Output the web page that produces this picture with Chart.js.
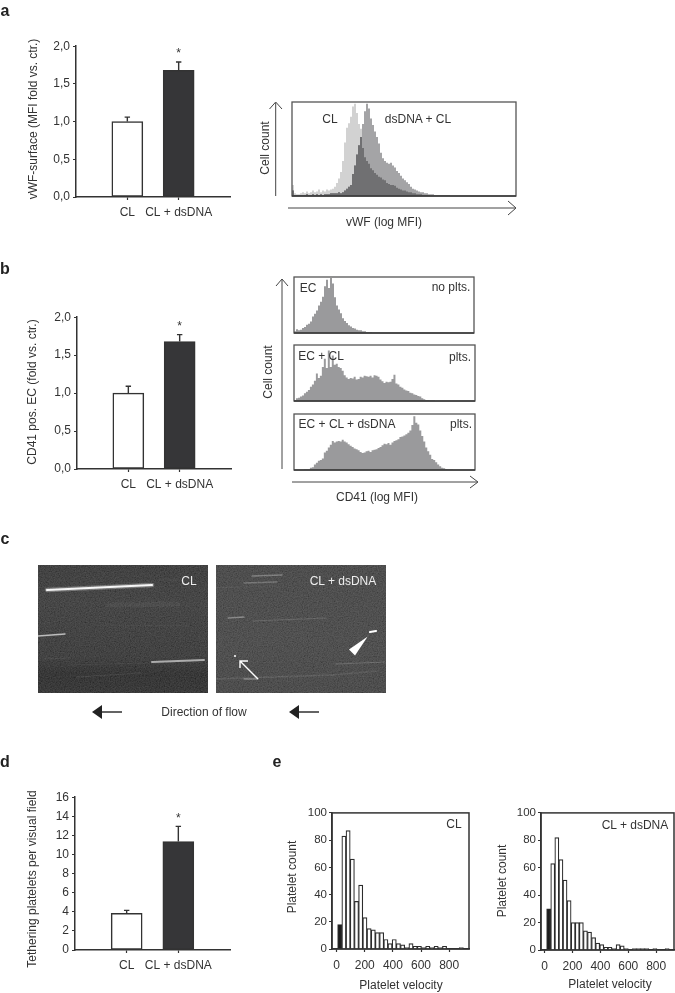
<!DOCTYPE html>
<html>
<head>
<meta charset="utf-8">
<title>Figure</title>
<script src="https://cdn.jsdelivr.net/npm/chart.js@4"></script>
<style>
  html, body { margin: 0; padding: 0; background: #fff; }
  #page { position: relative; width: 675px; height: 993px; overflow: hidden; font-family: "Liberation Sans", Arial, sans-serif; color: #333; }
  #page canvas { position: absolute; }
  .t { position: absolute; white-space: nowrap; font-size: 12px; line-height: 14px; transform: translate(-50%, -50%); }
  .t.v { transform: translate(-50%, -50%) rotate(-90deg); }
  .t.h { font-size: 16px; font-weight: bold; color: #222; }
  .t.w { color: #eee; }
  .photo { position: absolute; top: 565px; width: 170px; height: 128px; overflow: hidden; }
  .photo i { position: absolute; inset: 0; opacity: .25; background-image: url("data:image/svg+xml,%3Csvg xmlns='http://www.w3.org/2000/svg' width='170' height='128'%3E%3Cfilter id='n'%3E%3CfeTurbulence type='fractalNoise' baseFrequency='.8' numOctaves='2'/%3E%3CfeColorMatrix values='1 0 0 0 0 1 0 0 0 0 1 0 0 0 0 0 0 0 0 1'/%3E%3C/filter%3E%3Crect width='170' height='128' filter='url(%23n)'/%3E%3C/svg%3E"); }
  #page svg.marks { position: absolute; left: 0; top: 0; }
</style>
</head>
<body>
<div id="page">
  <div class="photo" style="left:38px;background:linear-gradient(180deg,#1a1a1a 0%,#202020 30%,#1a1a1a 72%,#0c0c0c 85%,#101010 100%)"><i></i></div>
  <div class="photo" style="left:216px;background:linear-gradient(180deg,#2a2a2a 0%,#2d2d2d 60%,#292929 100%)"><i></i></div>
</div>
<script>
const INK = "#333";
const FONT = "'Liberation Sans', Arial, sans-serif";

// --- bar panels a, b, d
const barCats = ["", "CL", "CL + dsDNA", ""];
const vwfMeans = [null, 1.0, 1.68, null];
const vwfTops = [null, 1.06, 1.79, null];
const cd41Means = [null, 1.0, 1.68, null];
const cd41Tops = [null, 1.09, 1.77, null];
const tetherMeans = [null, 3.85, 11.35, null];
const tetherTops = [null, 4.15, 12.95, null];
const foldTicks = [0, 0.5, 1, 1.5, 2];
const tetherTicks = [0, 2, 4, 6, 8, 10, 12, 14, 16];

// --- cytometry histograms (% of frame height, one value per bin)
const vwfCL = [12,3,2,2,3,4,3,5,3,4,6,4,5,7,4,6,5,7,6,7,8,10,14,19,26,38,58,74,79,86,97,100,90,78,73,52,42,38,35,30,28,25,23,21,20,18,17,14,13,12,12,11,9,8,7,6,6,5,4,4,3,3,2,2,2,1,1,1,1,0];
const vwfDs = [6,1,1,1,1,1,1,2,1,1,2,1,2,1,2,1,2,2,2,3,3,3,3,4,3,4,6,8,10,12,24,33,45,55,64,78,92,100,95,84,77,70,64,57,47,41,38,36,35,36,33,31,27,25,22,19,17,15,13,10,8,7,6,5,4,4,3,3,2,2,2,1,1,1,1,1,1,1,1,0];
const vwfBoth = [6,1,1,1,1,1,1,2,1,1,2,1,2,1,2,1,2,2,2,3,3,3,3,4,3,4,6,8,10,12,24,33,45,55,64,52,42,38,35,30,28,25,23,21,20,18,17,14,13,12,12,11,9,8,7,6,6,5,4,4,3,3,2,2,2,1,1,1,1,0];
const ecAlone = [3,7,5,6,9,11,15,17,21,30,35,41,50,57,66,85,97,82,100,90,65,50,43,36,27,22,18,14,12,9,8,6,5,5,3,3,2,2,2,1,1,1,1,0];
const ecCL = [2,5,6,8,10,14,17,20,26,30,37,50,42,46,62,77,60,92,62,83,66,68,62,60,55,47,43,40,42,41,44,39,40,44,43,46,45,44,46,43,47,46,44,39,36,33,35,34,35,40,48,32,30,26,24,21,19,18,15,14,12,11,9,8,5,3,2,2,1,1,1,0];
const ecCLds = [0,0,0,0,0,1,1,1,4,5,10,13,17,18,21,32,35,41,46,53,50,52,53,52,55,52,50,47,44,42,39,38,36,33,31,32,34,35,33,36,37,38,40,42,45,48,47,49,46,50,53,54,56,60,61,63,65,68,72,82,98,86,83,72,62,52,41,34,28,20,18,14,10,7,4,3,2,1,1,1,0];

// --- velocity histograms e
const velCL = [18,83,87,66,35,47,23,15,14,12,12,7,4,7,4,3,1,4,2,2,1,2,1,2,1,2,0,0,0,1];
const velDs = [30,63,82,66,51,36,20,20,20,14,13,9,5,4,2,2,1,4,3,1,0,1,1,1,1,0,1,0,0,1];
const velTicksX = [0, 200, 400, 600, 800];
const velTicksY = [0, 20, 40, 60, 80, 100];

// --- streaks in the two video frames: x0, y0, x1, y1 across the 170 x 128 frame
const streaksCL = [[9,25,114,20],[9,25,114,20],[0,71,27,69],[114,97,166,95],[5,94,32,93],[39,112,103,108],[70,40,140,39],[60,60,150,61],[30,100,110,98],[120,15,140,15]];
const streakGreyCL = ["#f6f6f6","rgba(255,255,255,.28)","#bcbcbc","#acacac","rgba(255,255,255,.07)","rgba(255,255,255,.08)","rgba(255,255,255,.04)","rgba(255,255,255,.04)","rgba(255,255,255,.05)","rgba(255,255,255,.05)"];
const streakWidthCL = [2.2,4.5,1.5,2,1.2,1.2,5,1.2,1.2,1];
const streaksDs = [[36,11,66,10],[28,18,61,17],[12,53,28,52],[37,56,110,53],[154,67,160,66],[120,99,169,97],[0,114,117,110],[28,114,42,114],[117,110,160,106],[0,23,60,21]];
const streakGreyDs = ["rgba(255,255,255,.28)","rgba(255,255,255,.22)","rgba(255,255,255,.32)","rgba(255,255,255,.14)","#fff","rgba(255,255,255,.17)","rgba(255,255,255,.1)","rgba(255,255,255,.3)","rgba(255,255,255,.08)","rgba(255,255,255,.05)"];
const streakWidthDs = [1.3,1.3,1.4,1.1,2.2,1.2,1.6,1.3,1.5,1];

const page = document.getElementById("page");

function text(str, x, y, cls) {
  const d = document.createElement("div");
  d.className = "t " + (cls || "");
  d.textContent = str;
  d.style.left = x + "px";
  d.style.top = y + "px";
  page.appendChild(d);
}

// canvas placed so that the plot area lands on box = [left, top, right, bottom]
function place(box, m, config) {
  const c = document.createElement("canvas");
  const w = Math.round(box[2] - box[0] + m.l + m.r), h = Math.round(box[3] - box[1] + m.t + m.b);
  c.width = w; c.height = h;
  c.style.left = (box[0] - m.l) + "px";
  c.style.top = (box[1] - m.t) + "px";
  c.style.width = w + "px"; c.style.height = h + "px";
  page.appendChild(c);
  config.options = Object.assign({
    responsive: false, animation: false,
    layout: { padding: { top: m.t, right: m.r, left: 0, bottom: 0 } },
    plugins: { legend: { display: false }, tooltip: { enabled: false } },
  }, config.options);
  return new Chart(c, config);
}

const tickFont = { family: FONT, size: 12 };

function barPanel(box, means, tops, ticks, fmt) {
  const whiskers = {
    id: "whiskers",
    afterDatasetsDraw(chart) {
      const { ctx, scales: { x, y } } = chart;
      ctx.save();
      ctx.strokeStyle = INK; ctx.lineWidth = 1.4; ctx.fillStyle = INK;
      tops.forEach((top, i) => {
        if (top == null) return;
        const px = x.getPixelForValue(i);
        ctx.beginPath();
        ctx.moveTo(px, y.getPixelForValue(means[i]));
        ctx.lineTo(px, y.getPixelForValue(top));
        ctx.moveTo(px - 2.7, y.getPixelForValue(top));
        ctx.lineTo(px + 2.7, y.getPixelForValue(top));
        ctx.stroke();
      });
      ctx.font = "12px " + FONT;
      ctx.textAlign = "center"; ctx.textBaseline = "middle";
      ctx.fillText("*", x.getPixelForValue(2), y.getPixelForValue(tops[2]) - 8);
      ctx.restore();
    },
  };
  return place(box, { l: 40, r: 6, t: 8, b: 26 }, {
    type: "bar",
    data: { labels: barCats, datasets: [{
      data: means, barThickness: 31, borderWidth: 1.5, borderColor: INK, borderSkipped: false,
      backgroundColor: ["#fff", "#fff", "#363638", "#fff"],
    }] },
    plugins: [whiskers],
    options: { scales: {
      x: {
        offset: false,
        afterFit: (s) => { s.height = 26; },
        border: { color: INK, width: 1.5 },
        grid: { offset: false, drawOnChartArea: false, tickLength: 3, tickWidth: 1.2,
                tickColor: (c) => (c.tick && c.tick.label ? INK : "transparent") },
        ticks: { color: INK, font: tickFont, padding: 5, autoSkip: false, maxRotation: 0 },
      },
      y: {
        min: 0, max: ticks[ticks.length - 1],
        afterFit: (s) => { s.width = 40; },
        afterBuildTicks: (s) => { s.ticks = ticks.map((v) => ({ value: v })); },
        border: { color: INK, width: 1.5 },
        grid: { drawOnChartArea: false, tickLength: 3, tickWidth: 1.2, tickColor: INK },
        ticks: { color: INK, font: tickFont, padding: 3, callback: fmt },
      },
    } },
  });
}

const comma = (v) => v.toFixed(1).replace(".", ",");
barPanel([76, 44, 229.5, 197], vwfMeans, vwfTops, foldTicks, comma);
barPanel([77, 314.5, 231, 468.5], cd41Means, cd41Tops, foldTicks, comma);
barPanel([75, 795, 230, 949.5], tetherMeans, tetherTops, tetherTicks, (v) => String(v));

// flow cytometry frames, no axes: the bins run across the frame
const frame = {
  id: "frame",
  afterDraw(chart) {
    const { ctx, chartArea: a } = chart;
    ctx.save();
    ctx.strokeStyle = "#555"; ctx.lineWidth = 1.3;
    ctx.strokeRect(a.left, a.top, a.right - a.left, a.bottom - a.top);
    ctx.strokeStyle = "#3a3a3a"; ctx.lineWidth = 1.6;
    ctx.beginPath(); ctx.moveTo(a.left, a.bottom); ctx.lineTo(a.right, a.bottom); ctx.stroke();
    ctx.restore();
  },
};

function histo(box, nBins, series) {
  const ch = place(box, { l: 2, r: 2, t: 2, b: 2 }, {
    type: "line",
    data: { datasets: series.map((s, k) => ({
      data: s.values.map((v, i) => ({ x: i, y: v })),
      backgroundColor: s.fill, borderColor: "transparent", borderWidth: 0,
      pointRadius: 0, fill: "origin", stepped: true, order: k,
    })) },
    plugins: [frame],
    options: {
      layout: { padding: 2 },
      scales: {
        x: { type: "linear", display: false, min: 0, max: nBins },
        y: { display: false, min: 0, max: 102 },
      },
    },
  });
  ch.canvas.style.filter = "blur(.4px)";
  return ch;
}

histo([292, 102, 516, 196], 112, [
  { values: vwfBoth, fill: "#707072" },
  { values: vwfDs, fill: "#a4a4a6" },
  { values: vwfCL, fill: "#d2d2d2" },
]);
histo([294, 277, 474, 333], 90, [{ values: ecAlone, fill: "#9a9a9c" }]);
histo([293.5, 345, 474.5, 401], 91, [{ values: ecCL, fill: "#9a9a9c" }]);
histo([293.5, 414, 474.5, 469.5], 91, [{ values: ecCLds, fill: "#9a9a9c" }]);

// video frames: streaks on hidden scales
function streakPanel(left, segs, greys, widths) {
  const ch = place([left, 565, left + 170, 693], { l: 0, r: 0, t: 0, b: 0 }, {
    type: "line",
    data: { datasets: segs.map((s, i) => ({
      data: [{ x: s[0], y: s[1] }, { x: s[2], y: s[3] }],
      borderColor: greys[i], borderWidth: widths[i], pointRadius: 0,
      borderCapStyle: "round", order: i,
    })) },
    options: {
      layout: { padding: 0 },
      scales: {
        x: { type: "linear", display: false, min: 0, max: 170 },
        y: { display: false, reverse: true, min: 0, max: 128 },
      },
    },
  });
  ch.canvas.style.filter = "blur(.7px)";
  return ch;
}
streakPanel(38, streaksCL, streakGreyCL, streakWidthCL);
streakPanel(216, streaksDs, streakGreyDs, streakWidthDs);

// velocity histograms
function velPanel(box, counts, binStart, binWidth, barPx, xMin, xMax) {
  const pts = counts.map((v, i) => ({ x: binStart + i * binWidth, y: v }));
  return place(box, { l: 30, r: 1, t: 8, b: 24 }, {
    type: "bar",
    data: { datasets: [{
      data: pts, barThickness: barPx, borderWidth: 1.2, borderColor: "#2c2c2c",
      backgroundColor: pts.map((p, i) => (i === 0 ? "#1c1c1c" : "#fff")),
    }] },
    plugins: [{
      id: "box",
      afterDraw(chart) {
        const { ctx, chartArea: a } = chart;
        ctx.save();
        ctx.strokeStyle = INK; ctx.lineWidth = 1.5;
        ctx.strokeRect(a.left, a.top, a.right - a.left, a.bottom - a.top);
        ctx.restore();
      },
    }],
    options: { scales: {
      x: {
        type: "linear", min: xMin, max: xMax, offset: false,
        afterFit: (s) => { s.height = 24; },
        afterBuildTicks: (s) => { s.ticks = velTicksX.map((v) => ({ value: v })); },
        border: { color: INK, width: 1.5 },
        grid: { offset: false, drawOnChartArea: false, tickLength: 3, tickWidth: 1.2, tickColor: INK },
        ticks: { color: INK, font: tickFont, padding: 6, maxRotation: 0 },
      },
      y: {
        min: 0, max: 100,
        afterFit: (s) => { s.width = 30; },
        afterBuildTicks: (s) => { s.ticks = velTicksY.map((v) => ({ value: v })); },
        border: { color: INK, width: 1.5 },
        grid: { drawOnChartArea: false, tickLength: 3, tickWidth: 1.2, tickColor: INK },
        ticks: { color: INK, font: { family: FONT, size: 11.5 }, padding: 2 },
      },
    } },
  });
}
velPanel([331.5, 812, 468.5, 949], velCL, 22, 29.8, 4.2, -33, 941);
velPanel([541, 812, 673.5, 949.5], velDs, 29, 29.3, 4.07, -26, 928);

// arrows and photo marks
page.insertAdjacentHTML("beforeend", `
<svg class="marks" width="675" height="993" fill="none" stroke="#444" stroke-width="1">
  <path d="M275.7 196V103M269.5 109L275.7 102L282 109"/>
  <path d="M288 208H515M508 201L516 208L508 215"/>
  <path d="M282 469V280M276 286L282 279L288 286"/>
  <path d="M292 482H477M470 476L478 482L470 488"/>
  <path d="M122 712H97" stroke="#222" stroke-width="1.4"/><path d="M92 712L102 705V719Z" fill="#222" stroke="none"/>
  <path d="M319 712H294" stroke="#222" stroke-width="1.4"/><path d="M289 712L299 705V719Z" fill="#222" stroke="none"/>
  <path d="M258 679L240.5 661.5M240 668V661H248" stroke="#fff" stroke-width="1.4"/>
  <path d="M367.7 636.5L349 649.5L355 655.5Z" fill="#fff" stroke="none"/>
  <circle cx="235" cy="656" r="1" fill="#fff" stroke="none"/>
</svg>`);

// texts
text("a", 5, 11, "h"); text("b", 5, 269, "h"); text("c", 5, 539, "h"); text("d", 5, 762, "h"); text("e", 277, 762, "h");
text("vWF-surface (MFI fold vs. ctr.)", 33, 119, "v");
text("CD41 pos. EC (fold vs. ctr.)", 32, 392, "v");
text("Tethering platelets per visual field", 32, 879, "v");
text("Cell count", 265, 148, "v");
text("vWF (log MFI)", 384, 222);
text("CL", 330, 119);
text("dsDNA + CL", 418, 119);
text("Cell count", 268, 372, "v");
text("CD41 (log MFI)", 377, 497);
text("EC", 308, 288);
text("no plts.", 451, 287);
text("EC + CL", 321, 356);
text("plts.", 460, 357);
text("EC + CL + dsDNA", 347, 424);
text("plts.", 461, 424);
text("CL", 189, 581, "w");
text("CL + dsDNA", 343, 581, "w");
text("Direction of flow", 204, 712);
text("Platelet count", 292, 877, "v");
text("Platelet velocity", 401, 985);
text("CL", 454, 824);
text("Platelet count", 502, 881, "v");
text("Platelet velocity", 610, 984);
text("CL + dsDNA", 635, 825);
</script>
</body>
</html>
